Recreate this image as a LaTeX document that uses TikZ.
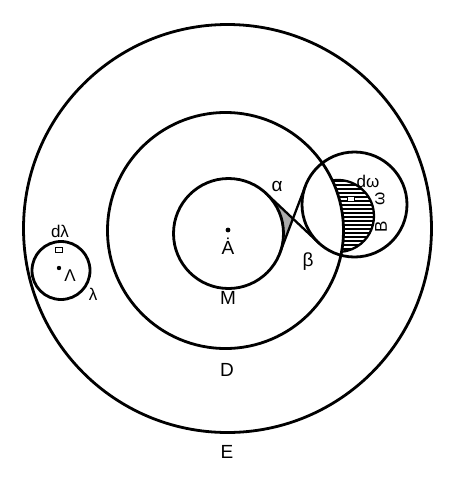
\documentclass[tikz,border=0pt]{standalone}
\usepackage{fontspec}
\setmainfont{Liberation Sans}
\begin{document}
\begin{tikzpicture}[x=1pt,y=-1pt,
  ring/.style={draw=black,line width=2.8pt},
  thinring/.style={draw=black,line width=2.3pt},
  lbl/.style={font=\fontsize{19}{19}\selectfont,inner sep=0pt},
  slbl/.style={font=\fontsize{17}{17}\selectfont,inner sep=0pt},
  elem/.style={draw=black,fill=white,line width=1pt,minimum width=7pt,minimum height=5pt,inner sep=0pt},
  hatch/.style={line width=1.9pt}]
\useasboundingbox (0,0) rectangle (464,480);
\fill[white] (0,0) rectangle (464,480);
% centres and tangent points
\coordinate (cE) at (227.5,228.5);
\coordinate (cD) at (225.5,230.5);
\coordinate (cM) at (228.5,233.5);
\coordinate (cB) at (354.5,204.5);
\coordinate (cL) at (61,270.5);
\coordinate (T1) at (266.2,193.5);
\coordinate (T2) at (279.9,253.0);
\coordinate (P) at (292.97,218.66);
\coordinate (U1) at (305.4,185.9);
\coordinate (U2) at (318.5,242.7);
\coordinate (I2) at (332.36,180.45);
% shaded crescent next to M
\fill[gray!65] (T1) -- (P) -- (T2) arc[start angle=20.79,end angle=-46.71,radius=55] -- cycle;
% hatched region in B
\begin{scope}
  \clip (I2) arc[start angle=-99,end angle=84.3,radius=36] arc[start angle=10.41,end angle=-25.1,radius=118] -- cycle;
  \foreach \yy in {181,185,...,253} \draw[hatch] (320,\yy) -- (385,\yy);
\end{scope}
\draw[thinring] (I2) arc[start angle=-99,end angle=84.3,radius=36];
% circles
\draw[ring] (cE) circle (204);
\draw[ring] (cD) circle (118);
\draw[ring] (cM) circle (55);
\draw[ring] (cB) circle (52.5);
\draw[ring] (cL) circle (29);
% internal tangents
\draw[thinring] (T1) -- (U2);
\draw[thinring] (T2) -- (U1);
% small elements
\node[elem] (sqL) at (59,250) {};
\node[elem] (sqB) at (351,199) {};
\fill (228,230) circle (2.4);
\fill (59,268) circle (2.2);
% labels
\node[lbl] (la) at (277,186) {α};
\node[lbl] (lb) at (308,262) {β};
\node[lbl] (lA) at (228,246) {\.{A}};
\node[lbl] (lM) at (228,298) {M};
\node[lbl] (lD) at (227,370) {D};
\node[lbl] (lE) at (227,452) {E};
\node[slbl] (ldl) at (60,231) {dλ};
\node[slbl] (lLam) at (70,276) {Λ};
\node[slbl] (llam) at (93,294) {λ};
\node[slbl] (ldw) at (368,181) {dω};
\node[slbl,rotate=90] (lw) at (380,199) {ω};
\node[slbl,rotate=90] (lB) at (381,227) {B};
\end{tikzpicture}
\end{document}
